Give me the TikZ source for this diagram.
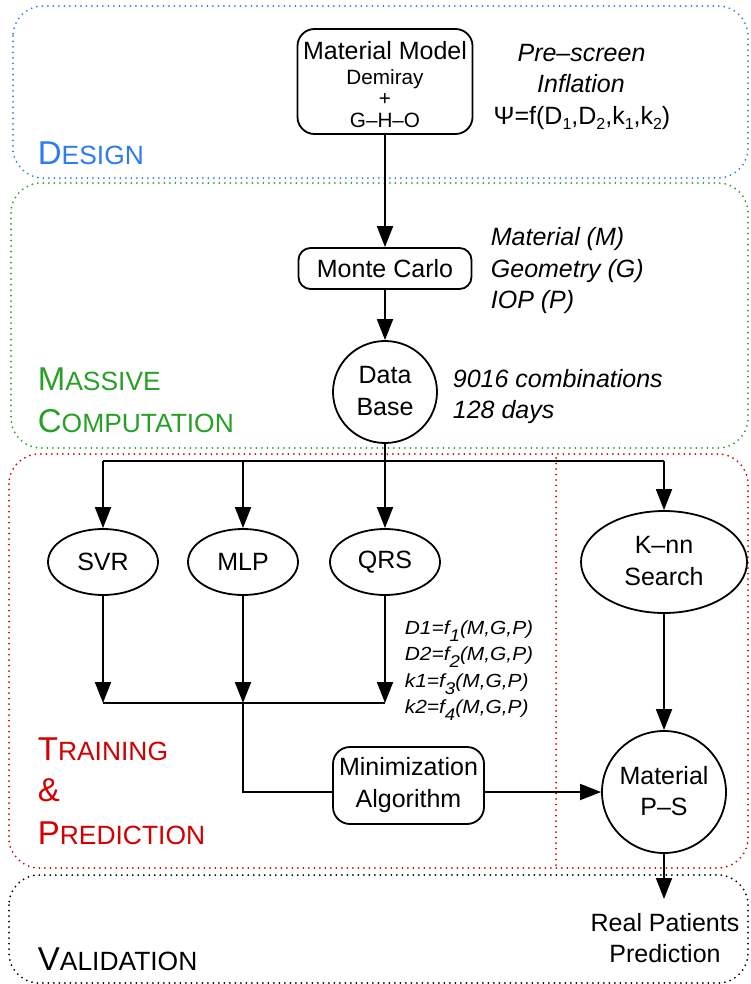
\documentclass[tikz,border=0pt]{standalone}
\usepackage{fontspec}
\setmainfont{Liberation Sans}
\newfontfamily\widefont[FakeStretch=1.1]{Liberation Sans}
\usetikzlibrary{arrows.meta,shapes.geometric}
\definecolor{dblue}{RGB}{45,125,240}
\definecolor{dgreen}{RGB}{40,160,40}
\definecolor{dred}{RGB}{210,0,0}
\newcommand\nf{\fontsize{25}{31.5}\selectfont}
\newcommand\mf{\fontsize{20.7}{24}\selectfont}
\newcommand\ff{\widefont\fontsize{19}{22}\selectfont\itshape}
\newcommand\lbig{\fontsize{33}{36}\selectfont}
\newcommand\lsmall{\fontsize{26.4}{30}\selectfont}
\newcommand\SCap[2]{{\lbig #1}{\lsmall #2}}
\newcommand\psub[1]{\raisebox{-5pt}{\fontsize{16}{16}\selectfont #1}}
\newcommand\fsub[1]{\raisebox{-7pt}{\widefont\fontsize{17}{17}\selectfont\itshape #1}}
\begin{document}
\begin{tikzpicture}[x=1pt,y=-1pt,
  line width=1.8pt,
  arr/.style={-{Triangle[length=21pt,width=16pt]}},
  rbox/.style={draw, rounded corners=15pt, inner sep=0pt, line width=1.8pt},
  oval/.style={draw, ellipse, inner sep=0pt, line width=1.8pt},
  txt/.style={inner sep=0pt, anchor=base, font=\nf},
  ctx/.style={inner sep=0pt, align=center, font=\nf},
  itx/.style={inner sep=0pt, anchor=base west, font=\nf\itshape},
  fml/.style={inner sep=0pt, anchor=base west, font=\ff},
  lab/.style={inner sep=0pt, anchor=base west},
  zone/.style={line width=2pt, dash pattern=on 0pt off 5.5pt, line cap=round, rounded corners=30pt},
]
\useasboundingbox (0,0) rectangle (750,984);

% zones
\draw[zone, dblue] (13,6) rectangle (748,178);
\draw[zone, dgreen] (11,183) rectangle (748,448);
\draw[zone, dred] (9,454) rectangle (748,868);
\draw[zone, black] (9,875) rectangle (748,983);
\draw[zone, dred, rounded corners=0pt] (556,458) -- (556,866);

% zone labels
\node[lab, text=dblue] (lDesign) at (37,165) {\SCap{D}{ESIGN}};
\node[lab, text=dgreen] (lMassive) at (37,390) {\SCap{M}{ASSIVE}};
\node[lab, text=dgreen] (lComp) at (37,432) {\SCap{C}{OMPUTATION}};
\node[lab, text=dred] (lTrain) at (37,760) {\SCap{T}{RAINING}};
\node[lab, text=dred] (lAmp) at (37,801) {\lbig \&};
\node[lab, text=dred] (lPred) at (37,844) {\SCap{P}{REDICTION}};
\node[lab, text=black] (lValid) at (37,970) {\SCap{V}{ALIDATION}};

% material model
\node[rbox, rounded corners=17pt, minimum width=175pt, minimum height=105pt] (mm) at (385,81.5) {};
\node[txt] (mm1) at (385,60) {Material Model};
\node[txt, font=\mf] (mm2) at (385,85) {Demiray};
\node[txt, font=\mf] (mm3) at (385,106) {+};
\node[txt, font=\mf] (mm4) at (385,128) {G–H–O};

\node[txt, font=\nf\itshape] (pre) at (581.5,62) {Pre–screen};
\node[txt, font=\nf\itshape] (infl) at (581,93) {Inflation};
\node[txt] (psi) at (582,125) {Ψ=f(D\psub{1},D\psub{2},k\psub{1},k\psub{2})};

% monte carlo
\node[rbox, rounded corners=12pt, minimum width=173pt, minimum height=41pt, font=\nf] (mc) at (385,268.5) {Monte Carlo};
\node[itx] (pM) at (490,245) {Material (M)};
\node[itx] (pG) at (490,277) {Geometry (G)};
\node[itx] (pP) at (490,308) {IOP (P)};

% data base
\node[oval, minimum width=104pt, minimum height=102pt] (db) at (385,392) {};
\node[ctx] (dbT) at (385,391) {Data\\Base};
\node[itx] (comb) at (452,387) {9016 combinations};
\node[itx] (days) at (452,418) {128 days};

% models
\node[oval, minimum width=110pt, minimum height=66pt, font=\nf] (svr) at (103,562) {SVR};
\node[oval, minimum width=110pt, minimum height=66pt, font=\nf] (mlp) at (243,562) {MLP};
\node[oval, minimum width=110pt, minimum height=66pt, font=\nf] (qrs) at (385,562) {QRS};
\node[oval, minimum width=166pt, minimum height=102pt] (knn) at (664,562) {};
\node[ctx] (knnT) at (664,561) {K–nn\\Search};

% formulas
\node[fml] (f1) at (404,634) {D1=f\fsub{1}(M,G,P)};
\node[fml] (f2) at (404,660) {D2=f\fsub{2}(M,G,P)};
\node[fml] (f3) at (404,687) {k1=f\fsub{3}(M,G,P)};
\node[fml] (f4) at (404,713) {k2=f\fsub{4}(M,G,P)};

% minimization and material P-S
\node[rbox, rounded corners=17pt, minimum width=151pt, minimum height=77pt] (minb) at (408.5,785.5) {};
\node[ctx] (minT) at (408.5,785) {Minimization\\Algorithm};
\node[oval, minimum width=124pt, minimum height=122pt] (ps) at (664,792) {};
\node[ctx] (psT) at (664,791) {Material\\P–S};
\node[ctx] (rpT) at (665,938) {Real Patients\\Prediction};

% connectors
\coordinate (jS) at (103,461);
\coordinate (jM) at (243,461);
\coordinate (jK) at (664,461);
\coordinate (bS) at (103,703);
\coordinate (bM) at (243,703);
\coordinate (bQ) at (385,703);
\coordinate (mL) at (333,792);
\coordinate (mR) at (484,792);
\coordinate (rp) at (664,899);

\draw[arr] (mm.south) -- (mc.north);
\draw[arr] (mc.south) -- (db.north);
\draw (jS) -- (jK);
\draw[arr] (jS) -- (svr.north);
\draw[arr] (jM) -- (mlp.north);
\draw[arr] (db.south) -- (qrs.north);
\draw[arr] (jK) -- (knn.north);
\draw[arr] (svr.south) -- (bS);
\draw[arr] (mlp.south) -- (bM);
\draw[arr] (qrs.south) -- (bQ);
\draw (bS) -- (bQ);
\draw (bM) |- (mL);
\draw[arr] (mR) -- (ps.west);
\draw[arr] (knn.south) -- (ps.north);
\draw[arr] (ps.south) -- (rp);
\end{tikzpicture}
\end{document}
